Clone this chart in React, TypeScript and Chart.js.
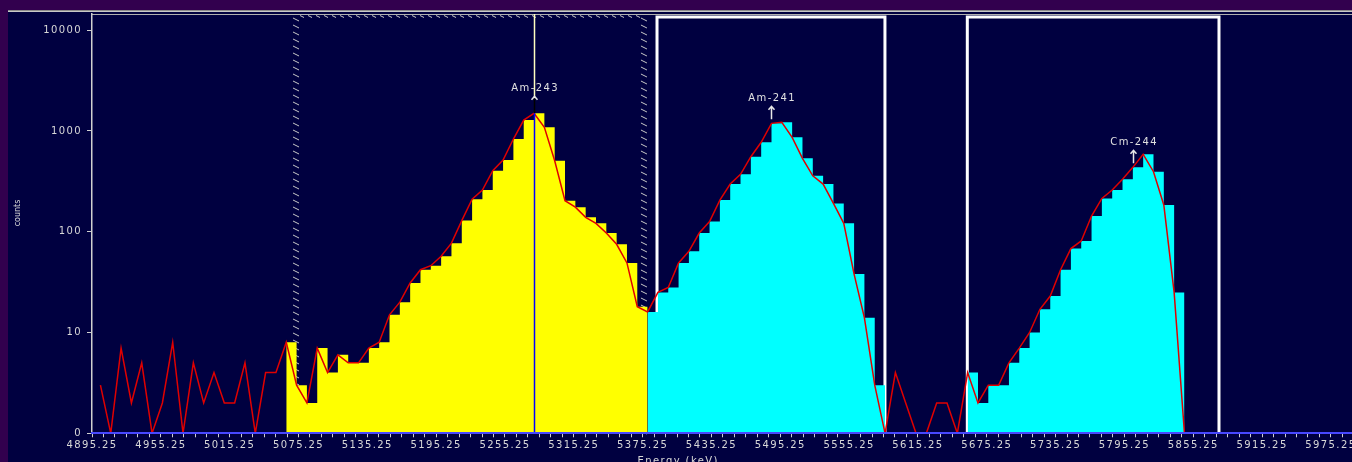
import React, { useEffect, useRef } from 'react';
import { Chart, registerables } from 'chart.js';

Chart.register(...registerables);

// ---------- data ----------
const E0 = 4902.6; // keV of channel 0
const GAIN = 9.0; // keV per channel

const X_MIN = 4895.25;
const X_MAX = 5993.65;
const X_TICK_STEP = 10;
const xTickLabels = [
  '4895.25', '4955.25', '5015.25', '5075.25', '5135.25', '5195.25', '5255.25',
  '5315.25', '5375.25', '5435.25', '5495.25', '5555.25', '5615.25', '5675.25',
  '5735.25', '5795.25', '5855.25', '5915.25', '5975.25',
];
const X_LABEL_STEP = 60;

const Y_MIN = 1;
const Y_MAX = 14454;
const yTickValues = [1, 10, 100, 1000, 10000];
const yTickLabels = ['0', '10', '100', '1000', '10000'];

const noiseLow = [3, 0, 7, 2, 5, 0, 2, 8, 0, 5, 2, 4, 2, 2, 5, 0, 4, 4];
const am243Counts = [
  8, 3, 2, 7, 4, 6, 5, 5, 7, 8, 15, 20, 31, 42, 46, 57, 77, 129, 210, 259, 403,
  514, 831, 1282, 1496, 1086, 506, 203, 175, 139, 121, 97, 75, 49, 18,
];
const am241Counts = [
  16, 25, 28, 49, 64, 97, 126, 206, 297, 371, 555, 771, 1189, 1217, 864, 535,
  359, 297, 191, 121, 38, 14, 3,
];
const noiseMid = [0, 4, 2, 0, 0, 2, 2, 0];
const cm244Counts = [
  4, 2, 3, 3, 5, 7, 10, 17, 23, 42, 68, 81, 143, 214, 259, 331, 435, 586, 394,
  184, 25,
];
const noiseHigh = [0];

const peakNames = ['Am-243', 'Am-241', 'Cm-244'];
const peakChannels = [42, 65, 100];

const roiNames = ['Am-243', 'Am-241', 'Cm-244'];
const roiStart = [5073.1, 5387.8, 5658.3];
const roiEnd = [5376.4, 5586.5, 5877.7];

// ---------- styles ----------
const PURPLE = '#32004e';
const NAVY = '#000040';
const YELLOW = '#ffff00';
const CYAN = '#00ffff';
const RED = '#e00000';
const TEXT = '#d8d8d8';
const FONT = 'DejaVu Sans';

// ---------- derived ----------
const counts = [
  ...noiseLow, ...am243Counts, ...am241Counts, ...noiseMid, ...cm244Counts, ...noiseHigh,
];
const energy = (ch: number) => E0 + GAIN * ch;
const plotVal = (v: number) => Math.max(v, Y_MIN);

const am243Start = noiseLow.length;
const am241Start = am243Start + am243Counts.length;
const cm244Start = am241Start + am241Counts.length + noiseMid.length;

function regionPoints(startCh: number, vals: number[]) {
  const pts = vals.map((v, i) => ({ x: energy(startCh + i), y: plotVal(v) }));
  pts.push({ x: energy(startCh + vals.length), y: Y_MIN });
  return pts;
}

const xTicks: number[] = [];
for (let v = X_MIN; v <= X_MAX + 1e-9; v += X_TICK_STEP) xTicks.push(v);

function xLabelFor(v: number) {
  const k = (v - X_MIN) / X_LABEL_STEP;
  const r = Math.round(k);
  if (Math.abs(k - r) < 1e-6 && r >= 0 && r < xTickLabels.length) return xTickLabels[r];
  return '';
}

const decorPlugin = {
  id: 'decor',
  beforeDraw(chart: any) {
    const { ctx, width, height, chartArea: ca } = chart;
    ctx.save();
    ctx.fillStyle = NAVY;
    ctx.fillRect(0, 0, width, height);
    ctx.fillStyle = PURPLE;
    ctx.fillRect(0, 0, width, 2);
    ctx.fillStyle = '#8c8c8c';
    ctx.fillRect(0, 2, width, 1);
    ctx.fillStyle = '#c8c8c8';
    ctx.fillRect(0, 3, width, 1);
    ctx.strokeStyle = '#b0b0b0';
    ctx.lineWidth = 1;
    ctx.beginPath();
    ctx.moveTo(ca.left, ca.top + 0.5);
    ctx.lineTo(ca.right, ca.top + 0.5);
    ctx.stroke();
    ctx.restore();
    ctx.letterSpacing = '1.4px';
  },
  beforeDatasetsDraw(chart: any) {
    const { ctx, chartArea: ca, scales } = chart;
    const x = scales.x;
    ctx.save();
    // hatched ROI (Am-243)
    const h0 = x.getPixelForValue(roiStart[0]);
    const h1 = x.getPixelForValue(roiEnd[0]);
    ctx.strokeStyle = '#c8c8c8';
    ctx.lineWidth = 1;
    ctx.beginPath();
    for (let yy = ca.top + 4; yy < ca.bottom; yy += 7) {
      for (const cx of [h0, h1]) {
        ctx.moveTo(cx - 3, yy);
        ctx.lineTo(cx + 3, yy + 3);
      }
    }
    for (let xx = h0 + 6; xx < h1 - 4; xx += 8) {
      ctx.moveTo(xx - 2, ca.top + 1.5);
      ctx.lineTo(xx + 2, ca.top + 3.5);
    }
    ctx.stroke();
    // boxed ROIs
    ctx.strokeStyle = '#ffffff';
    ctx.lineWidth = 3;
    for (let i = 1; i < roiNames.length; i++) {
      const a = x.getPixelForValue(roiStart[i]);
      const b = x.getPixelForValue(roiEnd[i]);
      const t = ca.top + 3;
      ctx.beginPath();
      ctx.moveTo(a, ca.bottom);
      ctx.lineTo(a, t);
      ctx.lineTo(b, t);
      ctx.lineTo(b, ca.bottom);
      ctx.stroke();
    }
    ctx.restore();
  },
  afterDatasetsDraw(chart: any) {
    const { ctx, chartArea: ca, scales } = chart;
    const x = scales.x;
    const y = scales.y;
    ctx.save();
    // cursor through Am-243 peak
    const cx = Math.round(x.getPixelForValue(energy(peakChannels[0]))) + 0.5;
    const cy = y.getPixelForValue(plotVal(counts[peakChannels[0]]));
    ctx.lineWidth = 1.5;
    ctx.strokeStyle = '#ffffc0';
    ctx.beginPath();
    ctx.moveTo(cx, ca.top);
    ctx.lineTo(cx, cy - 15);
    ctx.stroke();
    ctx.strokeStyle = '#000000';
    ctx.beginPath();
    ctx.moveTo(cx, cy - 15);
    ctx.lineTo(cx, cy);
    ctx.stroke();
    ctx.strokeStyle = '#0000ff';
    ctx.beginPath();
    ctx.moveTo(cx, cy);
    ctx.lineTo(cx, ca.bottom);
    ctx.stroke();

    // peak labels + arrows
    ctx.font = `10px "${FONT}"`;
    ctx.letterSpacing = '1.4px';
    ctx.textAlign = 'center';
    ctx.textBaseline = 'middle';
    ctx.fillStyle = '#e0e0e0';
    ctx.strokeStyle = '#e8e8e8';
    ctx.lineWidth = 1.5;
    peakNames.forEach((name, i) => {
      const px = Math.round(x.getPixelForValue(energy(peakChannels[i]))) + 0.5;
      const py = y.getPixelForValue(plotVal(counts[peakChannels[i]]));
      ctx.fillText(name, px + 0.7, py - 25);
      const tip = py - 17;
      ctx.beginPath();
      ctx.moveTo(px - 3, tip + 3.5);
      ctx.lineTo(px, tip);
      ctx.lineTo(px + 3, tip + 3.5);
      if (i > 0) {
        ctx.moveTo(px, tip);
        ctx.lineTo(px, py - 4);
      }
      ctx.stroke();
    });
    ctx.restore();
  },
  afterDraw(chart: any) {
    const { ctx } = chart;
    ctx.save();
    ctx.fillStyle = TEXT;
    ctx.letterSpacing = '0px';
    ctx.font = `8px "${FONT}"`;
    ctx.textAlign = 'center';
    ctx.textBaseline = 'middle';
    ctx.translate(10, 205);
    ctx.rotate(-Math.PI / 2);
    ctx.fillText('counts', 0, 0);
    ctx.restore();
    ctx.save();
    ctx.fillStyle = TEXT;
    ctx.font = `10px "${FONT}"`;
    ctx.letterSpacing = '1.4px';
    ctx.textAlign = 'center';
    ctx.textBaseline = 'alphabetic';
    ctx.fillText('Energy (keV)', 670.2, 456);
    ctx.restore();
  },
};

export default function App() {
  const ref = useRef<HTMLCanvasElement>(null);
  useEffect(() => {
    document.documentElement.style.background = PURPLE;
    document.body.style.margin = '0';
    document.body.style.overflow = 'hidden';
    document.body.style.background = PURPLE;
    const canvas = ref.current!;
    const tickFont = { family: FONT, size: 10 };
    const fillDataset = (label: string, data: any[], color: string) => ({
      label,
      data,
      stepped: 'before',
      fill: 'start',
      backgroundColor: color,
      borderColor: 'rgba(0,0,0,0)',
      borderWidth: 0,
      pointRadius: 0,
      order: 1,
    });
    const chart = new Chart(canvas, {
      type: 'line',
      data: {
        datasets: [
          {
            label: 'spectrum',
            data: counts.map((v, i) => ({ x: energy(i), y: plotVal(v) })),
            borderColor: RED,
            borderWidth: 1.5,
            pointRadius: 0,
            fill: false,
            tension: 0,
            order: 0,
          },
          fillDataset(roiNames[0], regionPoints(am243Start, am243Counts), YELLOW),
          fillDataset(roiNames[1], regionPoints(am241Start, am241Counts), CYAN),
          fillDataset(roiNames[2], regionPoints(cm244Start, cm244Counts), CYAN),
        ],
      } as any,
      options: {
        responsive: false,
        animation: false,
        devicePixelRatio: 1,
        events: [],
        layout: { padding: { top: 6, left: 0, right: 0, bottom: 0 } },
        plugins: { legend: { display: false }, tooltip: { enabled: false } },
        scales: {
          x: {
            type: 'linear',
            min: X_MIN,
            max: X_MAX,
            afterBuildTicks: (s: any) => {
              s.ticks = xTicks.map((v) => ({ value: v }));
            },
            afterFit: (s: any) => {
              s.height = 28.7;
              s.paddingLeft = 0;
              s.paddingRight = 0;
            },
            grid: {
              drawOnChartArea: false,
              drawTicks: true,
              tickLength: 4,
              tickColor: '#d0d0d0',
              tickWidth: 1,
            },
            border: { display: true, color: '#4848ff', width: 2, z: 1 },
            ticks: {
              autoSkip: false,
              maxRotation: 0,
              minRotation: 0,
              padding: 2,
              color: TEXT,
              font: tickFont,
              callback: (v: any) => xLabelFor(Number(v)),
            },
          },
          y: {
            type: 'logarithmic',
            min: Y_MIN,
            max: Y_MAX,
            afterBuildTicks: (s: any) => {
              s.ticks = yTickValues.map((v) => ({ value: v }));
            },
            afterFit: (s: any) => {
              s.width = 84;
              s.paddingTop = 0;
              s.paddingBottom = 0;
            },
            grid: {
              drawOnChartArea: false,
              drawTicks: true,
              tickLength: 5,
              tickColor: '#d0d0d0',
            },
            border: { display: true, color: '#d0d0d0', width: 1.5 },
            ticks: {
              padding: 5,
              color: TEXT,
              font: tickFont,
              callback: (v: any) => {
                const idx = yTickValues.indexOf(Number(v));
                return idx >= 0 ? yTickLabels[idx] : '';
              },
            },
          },
        },
      } as any,
      plugins: [decorPlugin],
    });
    return () => chart.destroy();
  }, []);
  return (
    <div
      style={{
        position: 'relative',
        width: 1352,
        height: 462,
        background: PURPLE,
        overflow: 'hidden',
      }}
    >
      <canvas
        ref={ref}
        width={1344}
        height={454}
        style={{ position: 'absolute', left: 8, top: 8, width: 1344, height: 454 }}
      />
    </div>
  );
}
